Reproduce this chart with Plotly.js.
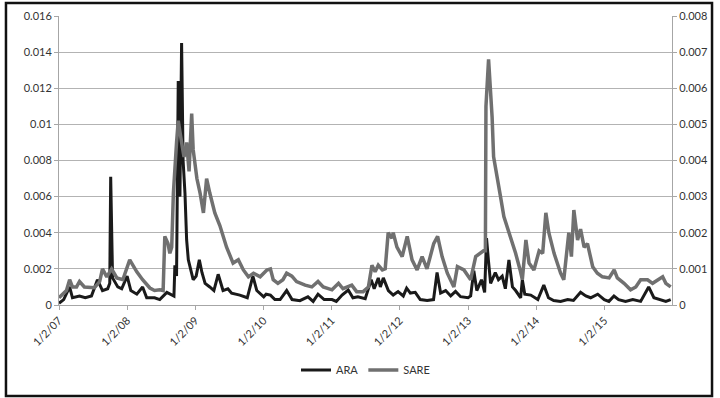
<!DOCTYPE html>
<html>
<head>
<meta charset="utf-8">
<script src="https://cdn.plot.ly/plotly-3.0.1.min.js"></script>
<style>html,body{margin:0;padding:0;background:#fff;}#chart{width:720px;height:398px;}</style>
</head>
<body>
<div id="chart"></div>
<script>
const araDates = ["2007-01-02","2007-01-27","2007-02-28","2007-03-15","2007-04-22","2007-05-23","2007-06-25","2007-07-27","2007-08-23","2007-09-20","2007-10-01","2007-10-06","2007-10-16","2007-11-13","2007-12-04","2008-01-02","2008-01-22","2008-02-23","2008-03-25","2008-04-16","2008-05-28","2008-06-25","2008-08-02","2008-09-09","2008-09-14","2008-09-23","2008-10-02","2008-10-11","2008-10-20","2008-10-28","2008-11-07","2008-11-16","2008-11-25","2008-12-13","2008-12-21","2009-01-06","2009-01-23","2009-02-06","2009-02-23","2009-03-20","2009-04-11","2009-05-04","2009-05-30","2009-06-25","2009-07-15","2009-08-28","2009-10-07","2009-11-06","2009-11-27","2010-01-03","2010-01-16","2010-02-08","2010-03-04","2010-04-01","2010-05-06","2010-06-04","2010-07-16","2010-08-28","2010-09-25","2010-10-21","2010-11-23","2011-01-04","2011-01-27","2011-02-27","2011-04-01","2011-04-26","2011-05-23","2011-07-01","2011-08-02","2011-08-18","2011-09-09","2011-09-20","2011-10-06","2011-11-02","2011-11-28","2011-12-24","2012-01-21","2012-02-08","2012-02-28","2012-03-25","2012-04-21","2012-05-28","2012-07-01","2012-07-20","2012-08-08","2012-09-04","2012-10-01","2012-10-27","2012-11-23","2013-01-02","2013-01-16","2013-02-02","2013-02-18","2013-02-27","2013-03-15","2013-04-01","2013-04-11","2013-04-21","2013-05-03","2013-05-28","2013-06-14","2013-07-04","2013-07-21","2013-08-09","2013-08-28","2013-09-14","2013-10-11","2013-10-20","2013-11-02","2013-12-04","2014-01-11","2014-02-12","2014-03-09","2014-04-06","2014-05-13","2014-06-20","2014-07-21","2014-08-28","2014-09-25","2014-10-21","2014-11-28","2015-01-02","2015-01-27","2015-02-23","2015-03-20","2015-04-26","2015-06-04","2015-07-16","2015-08-28","2015-09-25","2015-11-02","2015-11-28","2015-12-24"];
const araValues = [0.0001,0.0003,0.001,0.0004,0.0005,0.0004,0.0005,0.0014,0.0008,0.0009,0.0012,0.0071,0.0015,0.001,0.0009,0.0016,0.0008,0.0006,0.001,0.0004,0.0004,0.0003,0.0007,0.0005,0.0022,0.0016,0.0124,0.006,0.0145,0.008,0.0062,0.0036,0.0025,0.0018,0.0014,0.0016,0.0025,0.0018,0.0012,0.001,0.0008,0.0017,0.0008,0.0009,0.00065,0.00055,0.0004,0.0016,0.0008,0.00045,0.0006,0.00055,0.0003,0.0003,0.0008,0.0003,0.00024,0.00045,0.0002,0.0006,0.0003,0.0003,0.0002,0.00055,0.00083,0.0004,0.00046,0.00035,0.0014,0.0009,0.0015,0.001,0.0015,0.0008,0.00055,0.00074,0.0005,0.00093,0.00066,0.0007,0.0003,0.00025,0.0003,0.0018,0.00066,0.0008,0.0005,0.00075,0.00046,0.0004,0.0005,0.0019,0.0008,0.001,0.0014,0.0007,0.0037,0.0025,0.0012,0.0018,0.0014,0.0016,0.0009,0.0025,0.001,0.0008,0.0004,0.0014,0.0006,0.00055,0.0003,0.0011,0.0004,0.00025,0.0002,0.0003,0.00025,0.0007,0.0005,0.0004,0.0006,0.0003,0.0002,0.0005,0.0003,0.0002,0.0003,0.0002,0.001,0.0004,0.0003,0.0002,0.0003];

const sareDates = ["2007-01-02","2007-01-22","2007-02-11","2007-02-28","2007-03-15","2007-04-06","2007-04-22","2007-05-18","2007-06-15","2007-07-11","2007-08-08","2007-08-23","2007-09-15","2007-10-11","2007-11-08","2007-12-10","2008-01-16","2008-02-02","2008-02-23","2008-03-25","2008-05-03","2008-05-28","2008-06-25","2008-07-13","2008-07-22","2008-08-08","2008-08-18","2008-08-28","2008-09-06","2008-09-23","2008-10-02","2008-10-20","2008-11-02","2008-11-16","2008-11-29","2008-12-13","2008-12-21","2009-01-10","2009-01-27","2009-02-14","2009-03-03","2009-03-20","2009-04-16","2009-05-13","2009-06-18","2009-07-23","2009-08-20","2009-09-16","2009-10-13","2009-11-09","2009-12-15","2010-01-20","2010-02-08","2010-02-23","2010-03-20","2010-04-16","2010-05-06","2010-06-03","2010-06-28","2010-08-13","2010-09-18","2010-10-21","2010-11-18","2011-01-04","2011-02-08","2011-03-04","2011-04-20","2011-05-16","2011-06-20","2011-07-18","2011-08-06","2011-08-23","2011-09-09","2011-10-01","2011-10-16","2011-11-01","2011-11-21","2011-11-28","2011-12-18","2012-01-15","2012-02-11","2012-03-08","2012-04-04","2012-05-01","2012-05-27","2012-07-02","2012-07-23","2012-08-16","2012-09-13","2012-10-18","2012-11-06","2012-12-11","2013-01-16","2013-02-12","2013-03-09","2013-03-26","2013-04-05","2013-04-08","2013-04-22","2013-05-03","2013-05-11","2013-05-19","2013-06-08","2013-06-25","2013-07-13","2013-08-18","2013-09-14","2013-10-08","2013-10-20","2013-11-08","2013-11-25","2013-12-21","2014-01-18","2014-02-06","2014-02-23","2014-03-11","2014-04-08","2014-05-13","2014-05-30","2014-06-26","2014-07-10","2014-07-23","2014-08-12","2014-08-28","2014-09-16","2014-10-04","2014-11-01","2014-11-26","2014-12-23","2015-01-28","2015-02-24","2015-03-13","2015-04-18","2015-05-23","2015-06-20","2015-07-16","2015-08-22","2015-09-18","2015-10-15","2015-11-11","2015-11-28","2015-12-24"];
const sareValues = [0.0002,0.0003,0.0004,0.0007,0.0005,0.0005,0.00065,0.0005,0.0005,0.00048,0.00065,0.001,0.00078,0.001,0.00075,0.0007,0.00125,0.0011,0.00092,0.0007,0.00047,0.0004,0.00042,0.0004,0.0019,0.0017,0.00143,0.0016,0.0031,0.0045,0.0051,0.0045,0.0041,0.0045,0.0037,0.0053,0.0043,0.0035,0.0031,0.00255,0.0035,0.0031,0.00255,0.0022,0.0016,0.00116,0.00125,0.00097,0.00078,0.00088,0.00078,0.00097,0.001,0.0007,0.0006,0.0007,0.00088,0.0008,0.00065,0.00055,0.0005,0.00065,0.0005,0.00042,0.0006,0.00045,0.00055,0.00037,0.00037,0.0005,0.0011,0.00092,0.0011,0.00097,0.001,0.002,0.00185,0.002,0.0016,0.00134,0.0019,0.00125,0.00097,0.00134,0.001,0.0017,0.0019,0.00134,0.00088,0.0005,0.00106,0.00097,0.0007,0.00134,0.00143,0.0015,0.0015,0.0055,0.0068,0.0059,0.0052,0.0041,0.00355,0.003,0.00245,0.0019,0.00143,0.00097,0.0007,0.0018,0.00116,0.00097,0.0015,0.00143,0.00255,0.002,0.00143,0.00088,0.0007,0.002,0.00134,0.00263,0.0018,0.0021,0.0016,0.0017,0.00106,0.00088,0.00078,0.00075,0.00097,0.00075,0.0006,0.00042,0.0005,0.0007,0.0007,0.0006,0.0007,0.00078,0.0006,0.0005];

const xTickVals = ["2007-01-02","2008-01-02","2009-01-02","2010-01-02","2011-01-02","2012-01-02","2013-01-02","2014-01-02","2015-01-02"];
const xTickText = ["1/2/07","1/2/08","1/2/09","1/2/10","1/2/11","1/2/12","1/2/13","1/2/14","1/2/15"];

const traces = [
  {x: araDates, y: araValues, name: 'ARA', type: 'scatter', mode: 'lines',
   line: {color: '#1a1a1a', width: 3}, yaxis: 'y'},
  {x: sareDates, y: sareValues, name: 'SARE', type: 'scatter', mode: 'lines',
   line: {color: '#707070', width: 3.5}, yaxis: 'y2'}
];

const font = {family: 'Lato, "Open Sans", sans-serif', size: 11, color: '#333'};

const layout = {
  width: 720, height: 398,
  margin: {l: 59, r: 48, t: 16, b: 93},
  paper_bgcolor: '#fff', plot_bgcolor: '#fff',
  font: font,
  showlegend: true,
  legend: {orientation: 'h', x: 0.5, xanchor: 'center', y: -0.225, yanchor: 'middle',
           font: {family: font.family, size: 11, color: '#333'}, itemwidth: 30, traceorder: 'normal'},
  xaxis: {type: 'date', range: ['2007-01-02', '2015-12-31'],
          tickmode: 'array', tickvals: xTickVals, ticktext: xTickText, tickangle: -45,
          showgrid: false, zeroline: false, showline: true, linecolor: '#a6a6a6', linewidth: 1,
          ticks: 'outside', ticklen: 4, tickcolor: '#a6a6a6', tickfont: font},
  yaxis: {range: [0, 0.016], dtick: 0.002, tick0: 0, showgrid: true, gridcolor: '#b3b3b3', gridwidth: 1,
          zeroline: false, showline: true, linecolor: '#a6a6a6', ticks: 'outside', ticklen: 4,
          tickcolor: '#a6a6a6', tickfont: font},
  yaxis2: {range: [0, 0.008], dtick: 0.001, tick0: 0, overlaying: 'y', side: 'right', showgrid: false,
           zeroline: false, showline: true, linecolor: '#a6a6a6', ticks: 'outside', ticklen: 4,
           tickcolor: '#a6a6a6', tickfont: font},
  shapes: [{type: 'rect', xref: 'paper', yref: 'paper',
            x0: -0.0865, x1: 1.0653, y0: -0.315, y1: 1.045,
            line: {color: '#111', width: 2.5}, fillcolor: 'rgba(0,0,0,0)'}]
};

Plotly.newPlot('chart', traces, layout, {displayModeBar: false, staticPlot: true});
</script>
</body>
</html>
